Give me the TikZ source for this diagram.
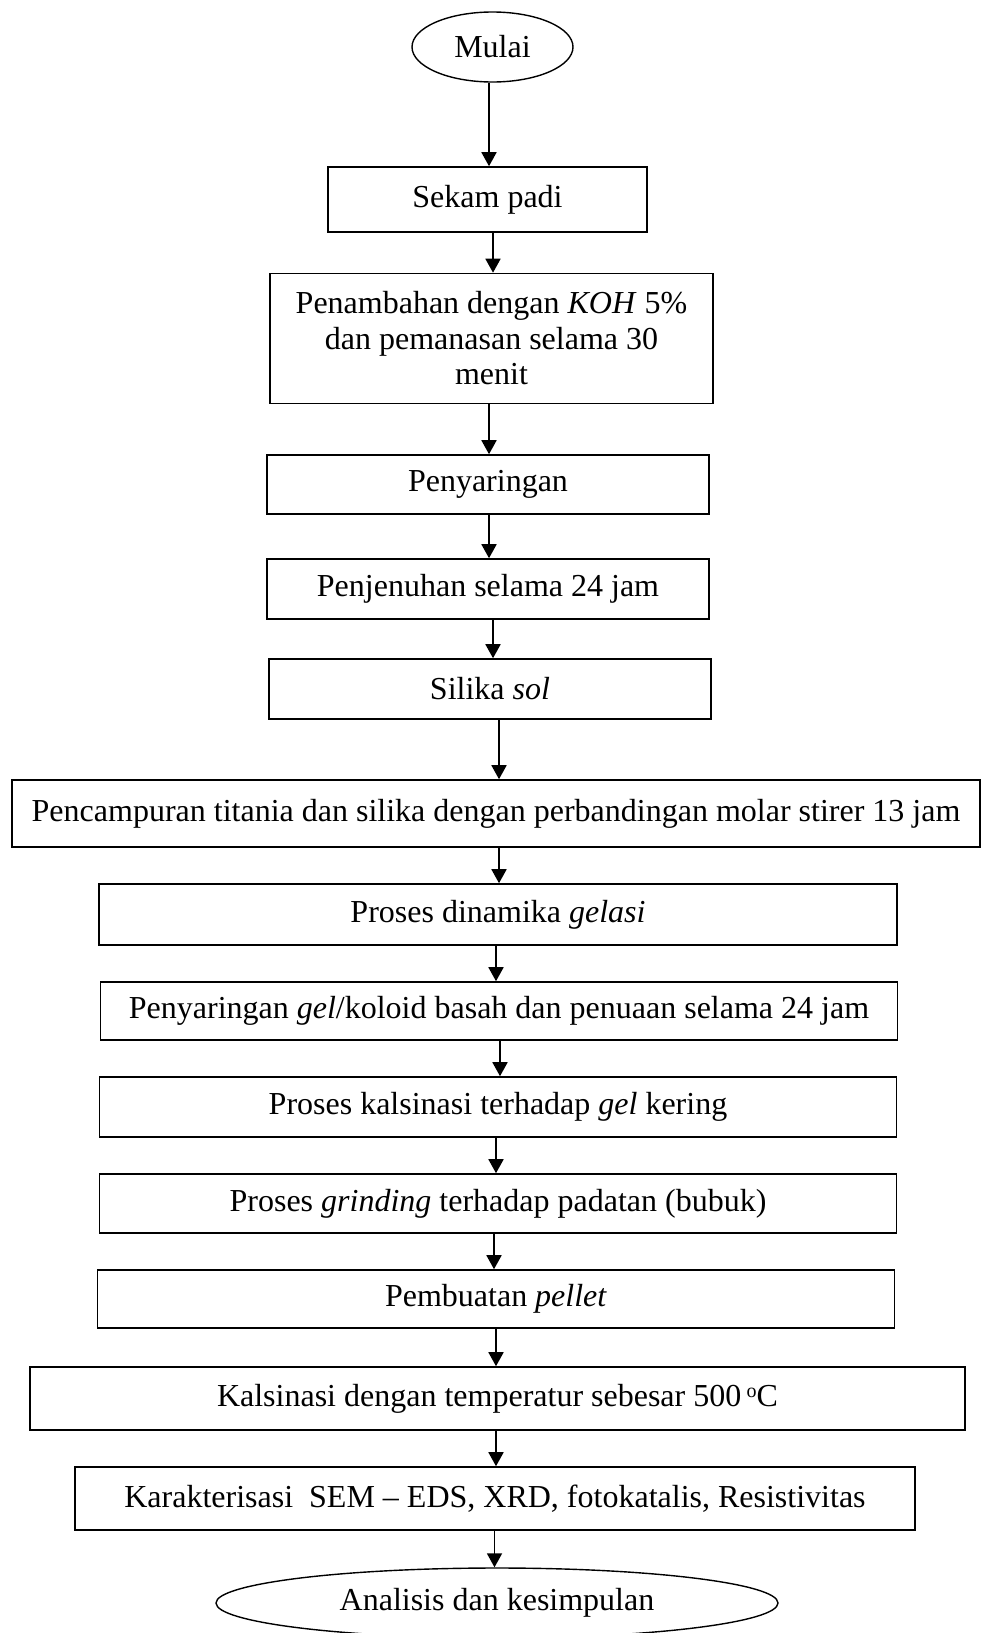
\documentclass[tikz,border=0pt]{standalone}
\usepackage{fontspec}
\setmainfont{Liberation Serif}
\usetikzlibrary{shapes.geometric,arrows.meta}
\begin{document}
\begin{tikzpicture}[x=1pt,y=-1pt,
  box/.style={draw,line width=1.6pt,rectangle,inner sep=0pt,align=center,font=\fontsize{32}{35.5}\selectfont},
  oval/.style={draw,line width=1.4pt,ellipse,inner sep=0pt,font=\fontsize{32}{35.5}\selectfont},
  arr/.style={line width=1.8pt,-{Triangle[length=14pt,width=15pt]}}]
\useasboundingbox (0,0) rectangle (984,1633);
\node[oval,minimum width=161,minimum height=70] (mulai) at (492.5,47) {Mulai};
\node[box,minimum width=319,minimum height=65] (sekam) at (487.5,199.5) {Sekam padi};
\node[box,minimum width=443,minimum height=130] (koh) at (491.5,338.5) {Penambahan dengan \textit{KOH} 5\%\\dan pemanasan selama 30\\menit};
\node[box,minimum width=442,minimum height=59] (saring) at (488,484.5) {Penyaringan};
\node[box,minimum width=442,minimum height=60] (jenuh) at (488,589) {Penjenuhan selama 24 jam};
\node[box,minimum width=442,minimum height=60] (sol) at (490,689) {Silika \textit{sol}};
\node[box,minimum width=968,minimum height=67] (campur) at (496,813.5) {Pencampuran titania dan silika dengan perbandingan molar stirer 13 jam};
\node[box,minimum width=798,minimum height=61] (gelasi) at (498,914.5) {Proses dinamika \textit{gelasi}};
\node[box,minimum width=797,minimum height=58] (gel) at (499,1011) {Penyaringan \textit{gel}/koloid basah dan penuaan selama 24 jam};
\node[box,minimum width=797,minimum height=60] (kals) at (498,1107) {Proses kalsinasi terhadap \textit{gel} kering};
\node[box,minimum width=797,minimum height=59] (grind) at (498,1203.5) {Proses \textit{grinding} terhadap padatan (bubuk)};
\node[box,minimum width=797,minimum height=58] (pellet) at (496,1299) {Pembuatan \textit{pellet}};
\node[box,minimum width=935,minimum height=63] (suhu) at (497.5,1398.5) {Kalsinasi dengan temperatur sebesar 500\,\raisebox{0.6ex}{\fontsize{20}{20}\selectfont o}C};
\node[box,minimum width=840,minimum height=63] (karak) at (495,1498.5) {Karakterisasi\ \ SEM -- EDS, XRD, fotokatalis, Resistivitas};
\node[oval,minimum width=562,minimum height=70] (analisis) at (497,1603) {Analisis dan kesimpulan};
\draw[arr] (mulai.south -| 489,0) -- (sekam.north -| 489,0);
\draw[arr] (sekam.south -| 493,0) -- (koh.north -| 493,0);
\draw[arr] (koh.south -| 489,0) -- (saring.north -| 489,0);
\draw[arr] (saring.south -| 489,0) -- (jenuh.north -| 489,0);
\draw[arr] (jenuh.south -| 493,0) -- (sol.north -| 493,0);
\draw[arr] (sol.south -| 499,0) -- (campur.north -| 499,0);
\draw[arr] (campur.south -| 499,0) -- (gelasi.north -| 499,0);
\draw[arr] (gelasi.south -| 496,0) -- (gel.north -| 496,0);
\draw[arr] (gel.south -| 500,0) -- (kals.north -| 500,0);
\draw[arr] (kals.south -| 496,0) -- (grind.north -| 496,0);
\draw[arr] (grind.south -| 494,0) -- (pellet.north -| 494,0);
\draw[arr] (pellet.south -| 496,0) -- (suhu.north -| 496,0);
\draw[arr] (suhu.south -| 496,0) -- (karak.north -| 496,0);
\draw[arr] (karak.south -| 494.5,0) -- (analisis.north -| 494.5,0);
\end{tikzpicture}
\end{document}
